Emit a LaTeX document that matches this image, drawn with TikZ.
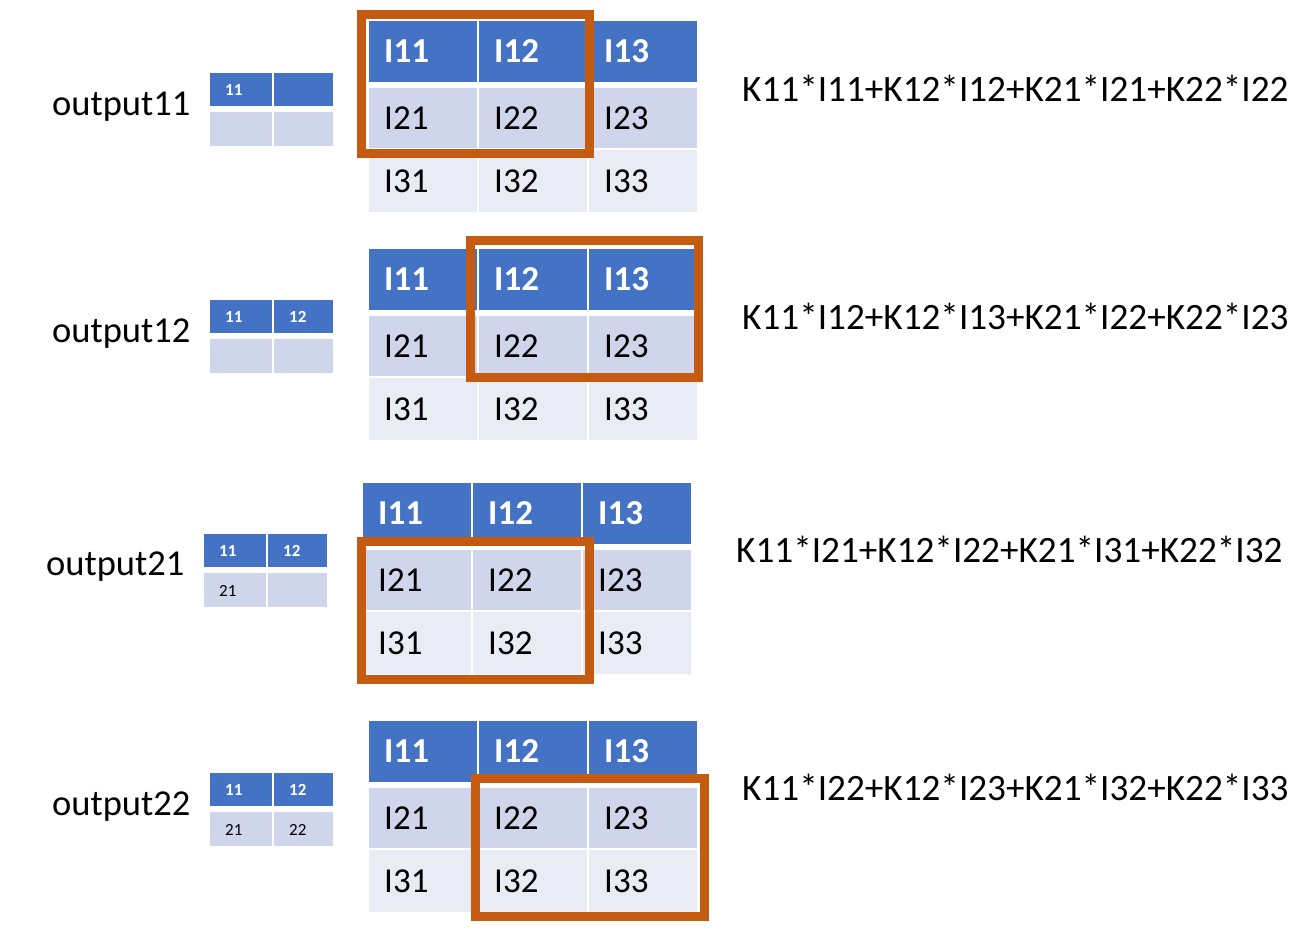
\documentclass[tikz,border=0pt]{standalone}
\usepackage{fontspec}
\setmainfont{Carlito}
\definecolor{hdr}{HTML}{4472C4}
\definecolor{rowa}{HTML}{CFD5EA}
\definecolor{rowb}{HTML}{E9EBF5}
\definecolor{win}{HTML}{C55A11}
\tikzset{
  cell/.style={anchor=west,inner sep=0pt},
  label/.style={anchor=base west,inner sep=0pt,font=\fontsize{36.5}{40}\selectfont},
  formula/.style={anchor=base west,inner sep=0pt,font=\fontsize{37.2}{40}\selectfont},
  window/.style={draw=win,line width=9pt}
}
% #1 id, #2 X, #3 Y
\newcommand\BigGrid[3]{%
  \foreach \r/\ya/\yb/\fc/\tc/\fw in {1/0/61/hdr/white/\bfseries,2/67/127/rowa/black/\mdseries,3/129/191/rowb/black/\mdseries}{%
    \foreach \c in {1,2,3}{%
      \fill[\fc] ({#2+(\c-1)*110+1},{#3+\ya}) rectangle ({#2+\c*110-1},{#3+\yb});
      \node[cell,text=\tc,font=\fontsize{35}{40}\selectfont\fw] (#1-\r\c) at ({#2+(\c-1)*110+16},{#3+(\ya+\yb)/2}) {I\r\c};
    }%
  }%
}
% #1 id, #2 X, #3 Y, #4 h1, #5 h2, #6 r1, #7 r2
\newcommand\SmallGrid[7]{%
  \fill[hdr] (#2,#3) rectangle ({#2+62},{#3+33});
  \fill[hdr] ({#2+64},#3) rectangle ({#2+123},{#3+33});
  \fill[rowa] (#2,{#3+39}) rectangle ({#2+62},{#3+73});
  \fill[rowa] ({#2+64},{#3+39}) rectangle ({#2+123},{#3+73});
  \node[cell,text=white,font=\fontsize{17}{20}\selectfont\bfseries] (#1-a) at ({#2+15},{#3+17}) {#4};
  \node[cell,text=white,font=\fontsize{17}{20}\selectfont\bfseries] (#1-b) at ({#2+79},{#3+17}) {#5};
  \node[cell,text=black,font=\fontsize{17}{20}\selectfont] (#1-c) at ({#2+15},{#3+57}) {#6};
  \node[cell,text=black,font=\fontsize{17}{20}\selectfont] (#1-d) at ({#2+79},{#3+57}) {#7};
}
\begin{document}
\begin{tikzpicture}[x=1pt,y=-1pt]
\useasboundingbox[fill=white] (0,0) rectangle (1312,938);

% ---- row 1 ----
\node[label] (lab1) at (52,115) {output11};
\SmallGrid{s1}{210}{73}{11}{}{}{}
\BigGrid{g1}{368}{21}
\draw[window] (361.5,14.5) rectangle (589.5,153.5);
\node[formula] (f1) at (742,101) {K11*I11+K12*I12+K21*I21+K22*I22};

% ---- row 2 ----
\node[label] (lab2) at (52,342) {output12};
\SmallGrid{s2}{210}{300}{11}{12}{}{}
\BigGrid{g2}{368}{249}
\draw[window] (470.5,240.5) rectangle (698.5,377.5);
\node[formula] (f2) at (742,329) {K11*I12+K12*I13+K21*I22+K22*I23};

% ---- row 3 ----
\node[label] (lab3) at (46,575) {output21};
\SmallGrid{s3}{204}{534}{11}{12}{21}{}
\BigGrid{g3}{362}{483}
\draw[window] (361.5,541.5) rectangle (589.5,679.5);
\node[formula] (f3) at (736,562) {K11*I21+K12*I22+K21*I31+K22*I32};

% ---- row 4 ----
\node[label] (lab4) at (52,815) {output22};
\SmallGrid{s4}{210}{773}{11}{12}{21}{22}
\BigGrid{g4}{368}{721}
\draw[window] (475.5,778.5) rectangle (704.5,916.5);
\node[formula] (f4) at (742,800) {K11*I22+K12*I23+K21*I32+K22*I33};
\end{tikzpicture}
\end{document}
